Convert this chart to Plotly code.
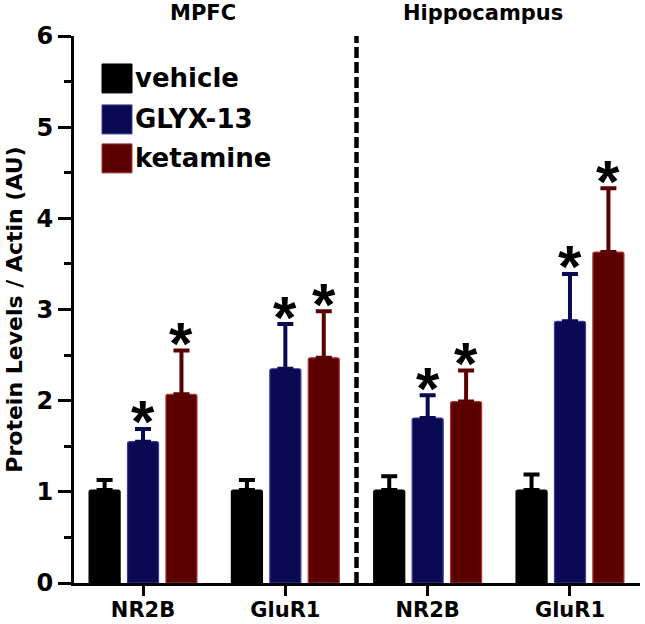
import plotly.graph_objects as go

# ---- data ----
categories = ["NR2B", "GluR1", "NR2B", "GluR1"]
regions = ["MPFC", "Hippocampus"]
series_names = ["vehicle", "GLYX-13", "ketamine"]
vehicle = [1.02, 1.02, 1.02, 1.02]
vehicle_err = [0.11, 0.11, 0.15, 0.17]
glyx = [1.55, 2.35, 1.81, 2.87]
glyx_err = [0.14, 0.49, 0.25, 0.52]
ketamine = [2.07, 2.47, 1.99, 3.63]
ketamine_err = [0.48, 0.51, 0.34, 0.70]
significant = {"vehicle": [False] * 4, "GLYX-13": [True] * 4, "ketamine": [True] * 4}

values = [vehicle, glyx, ketamine]
errors = [vehicle_err, glyx_err, ketamine_err]
fills = ["#000000", "#0a0a52", "#5a0000"]
edges = ["#000000", "#3a3aa0", "#b03030"]
offsets = [-0.27, 0.0, 0.27]
bar_w = 0.218

FONT = "DejaVu Sans"
W, H = 645, 624
L, R, T, B = 74, 5, 36, 40.5

fig = go.Figure()
for k, name in enumerate(series_names):
    xs = [i + offsets[k] for i in range(len(categories))]
    fig.add_trace(go.Bar(
        x=xs, y=values[k], width=bar_w, name=name,
        marker=dict(color=fills[k], line=dict(color=edges[k], width=1.2), cornerradius=2),
        error_y=dict(type="data", symmetric=False, array=errors[k],
                     arrayminus=[0] * len(categories), color=fills[k],
                     thickness=4, width=8),
        showlegend=False,
    ))
    for i, (v, e, s) in enumerate(zip(values[k], errors[k], significant[name])):
        if s:
            fig.add_annotation(x=xs[i], y=v + e, xref="x", yref="y", text="*",
                               showarrow=False, yanchor="middle", yshift=7,
                               font=dict(family="Liberation Sans", size=60, color="black", weight="bold"))

# divider between regions
fig.add_shape(type="line", x0=1.5, x1=1.5, y0=0, y1=6, xref="x", yref="y",
              line=dict(color="black", width=4.5, dash="11px,4px"))

# legend (drawn manually to get large swatches)
pw, ph = W - L - R, H - T - B
def px_x(p):
    return (p - L) / pw
def px_y(p):
    return (H - B - p) / ph

sw_top = [64, 105, 144]
for k, name in enumerate(series_names):
    fig.add_shape(type="rect", xref="paper", yref="paper",
                  x0=px_x(102), x1=px_x(132), y0=px_y(sw_top[k] + 29), y1=px_y(sw_top[k]),
                  fillcolor=fills[k], line=dict(color=edges[k], width=1))
    fig.add_annotation(xref="paper", yref="paper", x=px_x(133), y=px_y(sw_top[k] + 14.5),
                       text=name, showarrow=False, xanchor="left", yanchor="middle",
                       font=dict(family=FONT, size=26, color="black", weight="bold"))

# region titles
region_x = [px_x(203), px_x(483)]
for rname, rx in zip(regions, region_x):
    fig.add_annotation(xref="paper", yref="paper", x=rx, y=px_y(13), text=rname,
                       showarrow=False, xanchor="center", yanchor="middle",
                       font=dict(family=FONT, size=21, color="black", weight="bold"))

fig.update_layout(
    width=W, height=H, margin=dict(l=L, r=R, t=T, b=B, autoexpand=False),
    plot_bgcolor="white", paper_bgcolor="white", barmode="overlay",
    font=dict(family=FONT, color="black"),
)
fig.update_xaxes(range=[-0.485, 3.492], tickvals=list(range(len(categories))),
                 ticktext=categories, showline=True, linecolor="black", linewidth=3,
                 ticks="outside", ticklen=10, tickwidth=3, tickcolor="black",
                 ticklabelstandoff=-4,
                 showgrid=False, zeroline=False, automargin=False,
                 tickfont=dict(family=FONT, size=21, color="black", weight="bold"))
fig.update_yaxes(range=[0, 6], dtick=1, showline=True, linecolor="black", linewidth=3,
                 ticks="outside", ticklen=13, tickwidth=3, tickcolor="black",
                 minor=dict(dtick=0.5, ticks="outside", ticklen=7, tickwidth=3, tickcolor="black"),
                 showgrid=False, zeroline=False, automargin=False,
                 tickfont=dict(family=FONT, size=24, color="black", weight="bold"),
                 title=dict(text="Protein Levels / Actin (AU)", standoff=8,
                            font=dict(family=FONT, size=22, color="black", weight="bold")))

fig.write_html("out.html", config={"displayModeBar": False},
               post_script="document.body.style.margin='0';")
